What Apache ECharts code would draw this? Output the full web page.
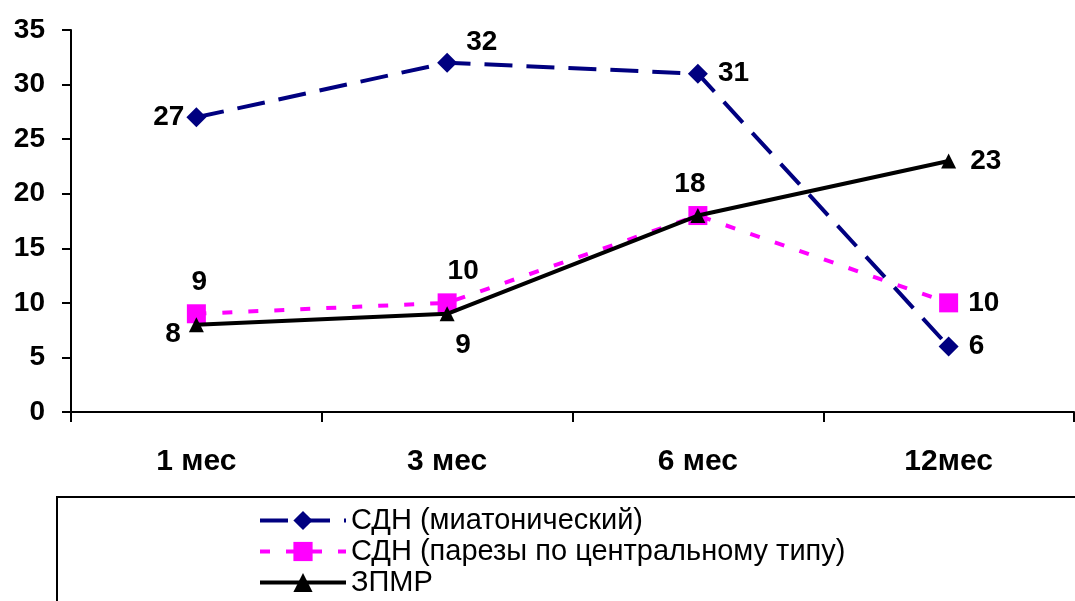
<!DOCTYPE html>
<html>
<head>
<meta charset="utf-8">
<script src="https://cdn.jsdelivr.net/npm/echarts@6/dist/echarts.min.js"></script>
<style>
  html, body { margin: 0; padding: 0; background: #fff; }
  #chart { width: 1075px; height: 601px; }
</style>
</head>
<body>
<div id="chart"></div>
<script>
const categories = ['1 мес', '3 мес', '6 мес', '12мес'];
const yTicks = [0, 5, 10, 15, 20, 25, 30, 35];
const sdnMyatonic = [27, 32, 31, 6];
const sdnCentral = [9, 10, 18, 10];
const zpmr = [8, 9, 18, 23];
const seriesNames = ['СДН (миатонический)', 'СДН (парезы по центральному типу)', 'ЗПМР'];

const FONT = '"Liberation Sans", Arial, sans-serif';
const labelBase = { show: true, fontFamily: FONT, fontWeight: 'bold', fontSize: 28, color: '#000' };

// per-point label placement
function labelled(values, places) {
  return values.map((v, i) => {
    const p = places[i];
    if (!p) return { value: v, label: { show: false } };
    return { value: v, label: Object.assign({}, labelBase, p) };
  });
}

const chart = echarts.init(document.getElementById('chart'), null, { renderer: 'canvas' });
chart.setOption({
  animation: false,
  backgroundColor: '#fff',
  grid: { left: 71, right: 1, top: 30, bottom: 189, containLabel: false },
  xAxis: {
    type: 'category',
    data: categories,
    boundaryGap: true,
    axisLine: { lineStyle: { color: '#000', width: 2 } },
    axisTick: { show: true, length: 10, inside: false, lineStyle: { color: '#000', width: 2 } },
    axisLabel: { fontFamily: FONT, fontWeight: 'bold', fontSize: 30, color: '#000', margin: 35 },
    splitLine: { show: false }
  },
  yAxis: {
    type: 'value',
    min: yTicks[0],
    max: yTicks[yTicks.length - 1],
    interval: 5,
    axisLine: { show: true, lineStyle: { color: '#000', width: 2 } },
    axisTick: { show: true, length: 9, lineStyle: { color: '#000', width: 2 } },
    axisLabel: { fontFamily: FONT, fontWeight: 'bold', fontSize: 28, color: '#000', margin: 26 },
    splitLine: { show: false }
  },
  legend: {
    orient: 'vertical',
    left: 258,
    top: 506,
    padding: 0,
    itemWidth: 86,
    itemHeight: 24,
    itemGap: 2,
    lineStyle: { width: 4 },
    textStyle: { fontFamily: FONT, fontSize: 29, lineHeight: 28, color: '#000' },
    data: seriesNames
  },
  graphic: [{
    type: 'rect',
    shape: { x: 57, y: 497, width: 1100, height: 200 },
    style: { fill: 'none', stroke: '#000', lineWidth: 2 },
    z: -1
  }],
  series: [
    {
      name: seriesNames[0],
      type: 'line',
      data: labelled(sdnMyatonic, [
        { position: 'left', distance: 2 },
        { position: 'right', offset: [4, -20] },
        { position: 'right', distance: 10 },
        { position: 'right', distance: 10 }
      ]),
      symbol: 'diamond',
      symbolSize: 20,
      itemStyle: { color: '#000080' },
      lineStyle: { color: '#000080', width: 4, type: [28, 14] },
      z: 3
    },
    {
      name: seriesNames[1],
      type: 'line',
      data: labelled(sdnCentral, [
        { position: 'top', offset: [3, 0], distance: 8 },
        { position: 'top', offset: [16, 0], distance: 8 },
        { position: 'top', offset: [-8, 0], distance: 8 },
        { position: 'right', distance: 10 }
      ]),
      symbol: 'rect',
      symbolSize: 19,
      itemStyle: { color: '#FF00FF' },
      lineStyle: { color: '#FF00FF', width: 4, type: [10, 16] },
      z: 2
    },
    {
      name: seriesNames[2],
      type: 'line',
      data: labelled(zpmr, [
        { position: 'left', offset: [-4, 10], distance: 4 },
        { position: 'bottom', offset: [16, 2], distance: 8 },
        null,
        { position: 'right', distance: 14 }
      ]),
      symbol: 'triangle',
      symbolSize: 15,
      itemStyle: { color: '#000' },
      lineStyle: { color: '#000', width: 4 },
      z: 4
    }
  ]
});
</script>
</body>
</html>
